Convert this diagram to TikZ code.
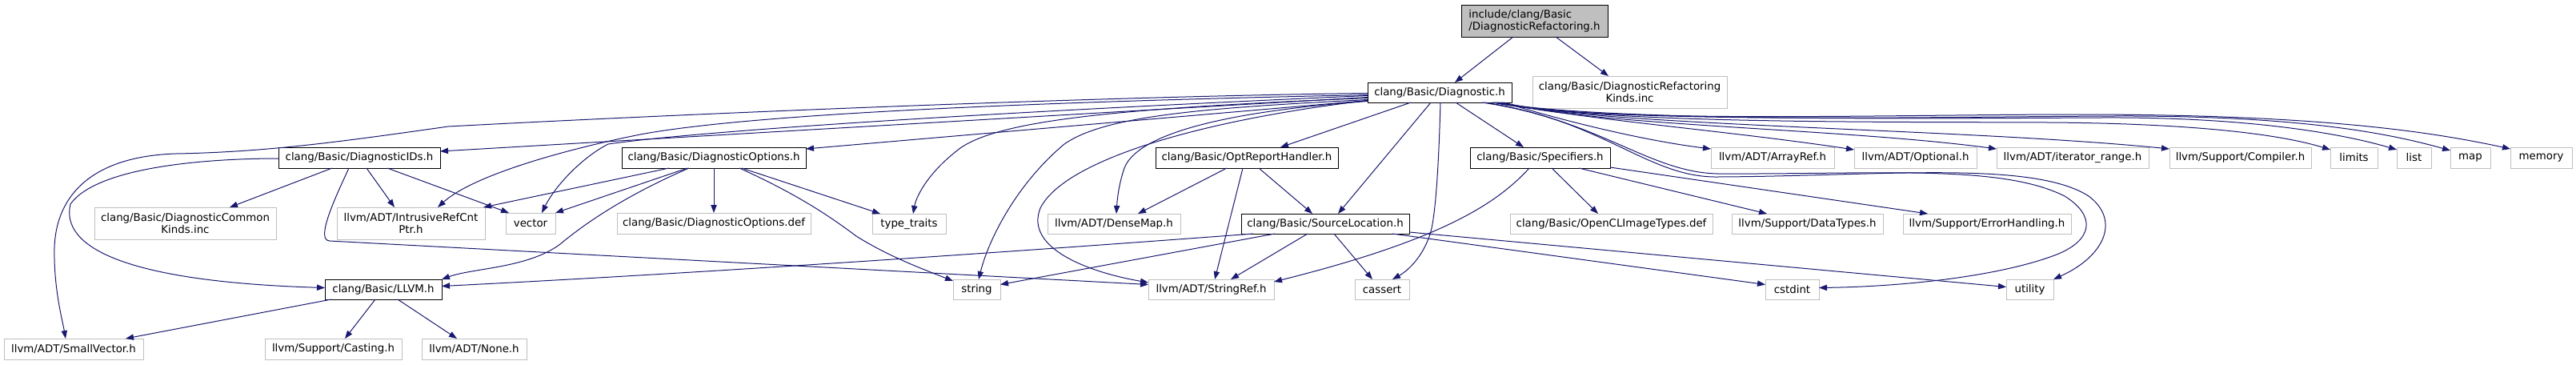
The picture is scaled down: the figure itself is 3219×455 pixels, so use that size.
\documentclass[tikz,border=0pt]{standalone}
\usepackage{fontspec}
\setmainfont{DejaVu Sans}
\usetikzlibrary{arrows.meta,calc}
\definecolor{edgecol}{HTML}{191970}
\definecolor{greyseventyfive}{HTML}{BFBFBF}
\newcommand\mknode[7]{%
  \pgfmathsetmacro\ndcx{(#3+#5)/2}%
  \pgfmathsetmacro\ndcy{(#4+#6)/2}%
  \pgfmathsetmacro\ndw{(#5-#3)*0.75}%
  \pgfmathsetmacro\ndh{(#6-#4)*0.75}%
  \node[#1, minimum width=\ndw pt, minimum height=\ndh pt] (#2) at (\ndcx,\ndcy) {#7};}
\tikzset{
  nbox/.style={rectangle, inner sep=0pt, outer sep=0pt, line width=0.75pt,
    font=\fontsize{10pt}{11.25pt}\selectfont, text=black},
  linked/.style={nbox, draw=black, fill=white},
  extnode/.style={nbox, draw=greyseventyfive, fill=white},
  rootnode/.style={nbox, draw=black, fill=greyseventyfive},
  dep/.style={draw=edgecol, line width=0.75pt, -{Triangle[length=7.5pt,width=5.5pt]}},
}
\begin{document}
\begin{tikzpicture}[x=0.75pt,y=-0.75pt]
\fill[white] (0,0) rectangle (3219,455);
\useasboundingbox (0,0) rectangle (3219,455);
% nodes
\mknode{rootnode,align=left}{root}{1826}{6}{2009}{46}{include/clang/Basic\\/DiagnosticRefactoring.h}
\mknode{linked}{diag}{1709}{103}{1889}{128}{clang/Basic/Diagnostic.h}
\mknode{extnode,align=center}{refkinds}{1915}{95}{2158}{135}{clang/Basic/DiagnosticRefactoring\\Kinds.inc}
\mknode{linked}{ids}{348}{184}{550}{210}{clang/Basic/DiagnosticIDs.h}
\mknode{linked}{opts}{777}{184}{1007}{210}{clang/Basic/DiagnosticOptions.h}
\mknode{linked}{opt}{1444}{184}{1672}{210}{clang/Basic/OptReportHandler.h}
\mknode{linked}{spec}{1837}{184}{2012}{210}{clang/Basic/Specifiers.h}
\mknode{extnode}{arrayref}{2138}{184}{2292}{210}{llvm/ADT/ArrayRef.h}
\mknode{extnode}{optional}{2317}{184}{2470}{210}{llvm/ADT/Optional.h}
\mknode{extnode}{iter}{2495}{184}{2685}{210}{llvm/ADT/iterator\_range.h}
\mknode{extnode}{compiler}{2711}{184}{2888}{210}{llvm/Support/Compiler.h}
\mknode{extnode}{limits}{2912}{184}{2971}{210}{limits}
\mknode{extnode}{list}{2995}{184}{3038}{210}{list}
\mknode{extnode}{map}{3062}{184}{3112}{210}{map}
\mknode{extnode}{memory}{3137}{184}{3214}{210}{memory}
\mknode{extnode,align=center}{common}{118}{259}{345}{299}{clang/Basic/DiagnosticCommon\\Kinds.inc}
\mknode{extnode,align=center}{intrusive}{421}{259}{606}{299}{llvm/ADT/IntrusiveRefCnt\\Ptr.h}
\mknode{extnode}{vector}{632}{266}{694}{292}{vector}
\mknode{extnode}{optsdef}{771}{266}{1013}{292}{clang/Basic/DiagnosticOptions.def}
\mknode{extnode}{typetraits}{1090}{267}{1182}{292}{type\_traits}
\mknode{extnode}{densemap}{1309}{267}{1475}{292}{llvm/ADT/DenseMap.h}
\mknode{linked}{srcloc}{1551}{267}{1761}{292}{clang/Basic/SourceLocation.h}
\mknode{extnode}{opencl}{1887}{267}{2140}{292}{clang/Basic/OpenCLImageTypes.def}
\mknode{extnode}{datatypes}{2164}{267}{2353}{292}{llvm/Support/DataTypes.h}
\mknode{extnode}{errhandling}{2378}{267}{2588}{292}{llvm/Support/ErrorHandling.h}
\mknode{linked}{llvm}{406}{349}{552}{374}{clang/Basic/LLVM.h}
\mknode{extnode}{string}{1191}{349}{1250}{374}{string}
\mknode{extnode}{stringref}{1435}{349}{1592}{374}{llvm/ADT/StringRef.h}
\mknode{extnode}{cassert}{1693}{349}{1761}{374}{cassert}
\mknode{extnode}{cstdint}{2206}{349}{2273}{374}{cstdint}
\mknode{extnode}{utility}{2507}{349}{2566}{374}{utility}
\mknode{extnode}{smallvec}{5}{423}{179}{449}{llvm/ADT/SmallVector.h}
\mknode{extnode}{casting}{331}{423}{502}{449}{llvm/Support/Casting.h}
\mknode{extnode}{nonenode}{527}{423}{658}{449}{llvm/ADT/None.h}
% edges from root
\draw[dep] ($(root.south west)+(65,0)$) -- ($(diag.north west)+(109,0)$);
\draw[dep] ($(root.south west)+(118,0)$) -- ($(refkinds.north west)+(95,0)$);
% edges from Diagnostic.h
\draw[dep] ($(diag.south west)+(54,0)$) -- ($(opt.north west)+(156,0)$);
\draw[dep] ($(diag.south west)+(79,0)$) -- ($(srcloc.north west)+(121,0)$);
\draw[dep] ($(diag.south west)+(91,0)$) .. controls (1798,200) and (1795,250) .. (1790,280) .. controls (1785,310) and (1765,335) .. ($(cassert.north west)+(47,0)$);
\draw[dep] ($(diag.south west)+(110,0)$) -- ($(spec.north west)+(67,0)$);
\draw[dep] ($(diag.west)+(0,6)$) -- ($(ids.north east)+(0,5)$);
\draw[dep] ($(diag.west)+(0,10)$) -- ($(opts.north east)+(0,2)$);
\draw[dep] ($(diag.west)+(0,1)$) .. controls (1400,120) and (900,140) .. (560,158) .. controls (420,178) and (330,190) .. (220,192) .. controls (120,195) and (70,240) .. (68,310) .. controls (67,360) and (78,400) .. ($(smallvec.north west)+(77,0)$);
\draw[dep] ($(diag.west)+(0,3)$) .. controls (1350,126) and (950,140) .. (800,168) .. controls (700,188) and (590,220) .. ($(intrusive.north west)+(126,0)$);
\draw[dep] ($(diag.west)+(0,4)$) .. controls (1350,135) and (900,160) .. (760,180) .. controls (730,195) and (695,230) .. ($(vector.north west)+(45,0)$);
\draw[dep] ($(diag.west)+(0,7)$) .. controls (1400,135) and (1250,150) .. (1200,185) .. controls (1160,215) and (1145,245) .. ($(typetraits.north west)+(51,0)$);
\draw[dep] ($(diag.west)+(0,9)$) .. controls (1500,135) and (1380,145) .. (1330,180) .. controls (1270,230) and (1235,300) .. ($(string.north west)+(32,0)$);
\draw[dep] ($(diag.west)+(0,10)$) .. controls (1500,150) and (1330,200) .. (1300,260) .. controls (1280,310) and (1360,340) .. ($(stringref.north west)+(0,4)$);
\draw[dep] ($(diag.west)+(0,11)$) .. controls (1520,140) and (1420,170) .. (1405,210) .. controls (1398,230) and (1396,250) .. ($(densemap.north west)+(86,0)$);
\draw[dep] ($(diag.south east)+(-10,0)$) .. controls (1950,150) and (2050,175) .. ($(arrayref.west)+(0,-11)$);
\draw[dep] ($(diag.south east)+(-12,0)$) .. controls (1980,150) and (2150,162) .. ($(optional.west)+(0,-10)$);
\draw[dep] ($(diag.south east)+(-14,0)$) .. controls (2000,158) and (2300,160) .. ($(iter.west)+(0,-11)$);
\draw[dep] ($(diag.south east)+(-16,0)$) .. controls (2000,158) and (2450,160) .. ($(compiler.west)+(0,-11)$);
\draw[dep] ($(diag.south east)+(-18,0)$) .. controls (2000,155) and (2350,152) .. (2560,153) .. controls (2720,154) and (2840,165) .. ($(limits.west)+(0,-10)$);
\draw[dep] ($(diag.south east)+(-20,0)$) .. controls (2000,152) and (2400,148) .. (2625,147) .. controls (2800,146) and (2920,165) .. ($(list.west)+(0,-10)$);
\draw[dep] ($(diag.south east)+(-22,0)$) .. controls (2000,155) and (2400,146) .. (2640,145) .. controls (2880,144) and (2990,168) .. ($(map.west)+(0,-9)$);
\draw[dep] ($(diag.south east)+(-24,0)$) .. controls (2000,155) and (2350,143) .. (2600,143) .. controls (2900,143) and (3040,165) .. ($(memory.west)+(0,-11)$);
\draw[dep] ($(diag.south east)+(-37,0)$) .. controls (2000,150) and (2060,215) .. (2146,217) .. controls (2350,218) and (2500,205) .. (2580,245) .. controls (2620,270) and (2615,300) .. (2570,318) .. controls (2500,345) and (2380,358) .. ($(cstdint.east)+(0,-2)$);
\draw[dep] ($(diag.south east)+(-34,0)$) .. controls (2003,150) and (2060,222) .. (2146,221) .. controls (2350,220) and (2540,200) .. (2610,245) .. controls (2650,275) and (2630,320) .. (utility.north east);
% edges from DiagnosticIDs.h
\draw[dep] ($(ids.south west)+(67,0)$) -- ($(common.north west)+(169,0)$);
\draw[dep] ($(ids.south west)+(88,0)$) .. controls (415,255) and (395,300) .. (412,301) -- ($(stringref.west)+(0,-6)$);
\draw[dep] ($(ids.south west)+(110,0)$) -- ($(intrusive.north west)+(72,0)$);
\draw[dep] ($(ids.south west)+(136,0)$) -- ($(vector.north west)+(4,0)$);
\draw[dep] ($(ids.west)+(0,1)$) .. controls (250,198) and (120,210) .. (88,255) .. controls (75,310) and (160,352) .. ($(llvm.west)+(0,-2)$);
% edges from DiagnosticOptions.h
\draw[dep] ($(opts.south west)+(59,0)$) -- ($(intrusive.north east)+(-2,0)$);
\draw[dep] ($(opts.south west)+(82,0)$) -- (vector.north east);
\draw[dep] ($(opts.south west)+(84,0)$) .. controls (780,245) and (730,280) .. (700,305) .. controls (660,335) and (590,335) .. (llvm.north east);
\draw[dep] (opts.south) -- (optsdef.north);
\draw[dep] ($(opts.south west)+(147,0)$) .. controls (990,240) and (1030,265) .. (1070,295) .. controls (1110,320) and (1150,335) .. ($(string.north west)+(0,2)$);
\draw[dep] ($(opts.south west)+(150,0)$) -- ($(typetraits.north west)+(10,0)$);
% edges from OptReportHandler.h
\draw[dep] ($(opt.south west)+(89,0)$) -- ($(densemap.north west)+(113,0)$);
\draw[dep] ($(opt.south west)+(109,0)$) -- ($(stringref.north west)+(83,0)$);
\draw[dep] ($(opt.south west)+(129,0)$) -- ($(srcloc.north west)+(89,0)$);
% edges from Specifiers.h
\draw[dep] ($(spec.south west)+(74,0)$) .. controls (1870,255) and (1800,300) .. ($(stringref.north east)+(0,3)$);
\draw[dep] ($(spec.south west)+(102,0)$) -- ($(opencl.north west)+(110,0)$);
\draw[dep] ($(spec.south west)+(136,0)$) -- ($(datatypes.north west)+(44,0)$);
\draw[dep] ($(spec.south east)+(0,-1)$) -- ($(errhandling.north west)+(31,0)$);
% edges from SourceLocation.h
\draw[dep] ($(srcloc.south west)+(15,0)$) .. controls (1300,312) and (900,340) .. ($(llvm.east)+(0,-4)$);
\draw[dep] ($(srcloc.south west)+(42,0)$) -- ($(string.east)+(0,-6)$);
\draw[dep] ($(srcloc.south west)+(83,0)$) -- ($(stringref.north west)+(103,0)$);
\draw[dep] ($(srcloc.south west)+(116,0)$) -- ($(cassert.north west)+(22,0)$);
\draw[dep] ($(srcloc.south west)+(189,0)$) -- ($(cstdint.west)+(0,-6)$);
\draw[dep] ($(srcloc.south east)+(0,-2)$) -- ($(utility.west)+(0,-3)$);
% edges from LLVM.h
\draw[dep] ($(llvm.south west)+(8,0)$) -- ($(smallvec.north east)+(-22,0)$);
\draw[dep] ($(llvm.south west)+(63,0)$) -- ($(casting.north west)+(100,0)$);
\draw[dep] ($(llvm.south west)+(91,0)$) -- ($(nonenode.north west)+(44,0)$);
\end{tikzpicture}
\end{document}
